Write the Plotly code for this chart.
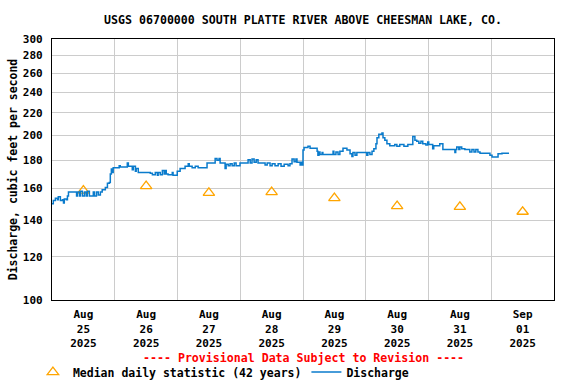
import pandas as pd
import plotly.graph_objects as go

# ---- data ----
start = pd.Timestamp("2025-08-25 00:00")

# discharge: hours since Aug 25 00:00, cfs (step data)
q_hours = [0.0, 0.5, 1.3, 2.1, 2.4, 3.2, 4.0, 4.4, 4.7, 5.5, 5.9, 6.3, 9.4, 9.7, 10.5, 10.8,
           11.6, 12.4, 13.1, 13.5, 14.3, 15.8, 16.2, 17.0, 17.7, 18.5, 19.2, 20.4, 21.2, 21.9,
           22.3, 22.7, 23.1, 23.4, 25.7, 26.1, 28.4, 28.8, 29.2, 30.7, 31.1, 31.9, 32.2, 33.0,
           37.6, 38.4, 39.5, 40.3, 40.6, 41.4, 42.2, 42.9, 43.3, 43.7, 44.4, 46.0, 46.3, 47.9,
           49.0, 50.9, 52.1, 52.5, 53.6, 54.8, 55.9, 59.3, 62.4, 63.1, 63.9, 64.3, 66.2, 66.6,
           67.4, 68.1, 68.9, 69.7, 70.4, 71.9, 75.0, 75.8, 76.5, 77.3, 78.1, 78.8, 81.5, 82.3,
           83.4, 84.2, 85.3, 86.5, 87.6, 88.8, 90.3, 91.0, 91.8, 92.6, 93.3, 93.7, 94.9, 95.2,
           95.6, 96.0, 96.4, 97.9, 98.7, 101.4, 101.7, 102.1, 102.5, 103.3, 103.6, 107.5, 107.8,
           108.6, 109.4, 110.1, 111.3, 112.8, 114.0, 114.7, 115.1, 115.9, 116.6, 119.7, 120.4,
           120.8, 121.6, 122.4, 123.1, 123.9, 124.3, 125.0, 126.2, 126.6, 127.3, 128.1, 129.2,
           131.1, 131.9, 133.0, 134.6, 136.1, 138.0, 138.8, 139.5, 140.3, 141.1, 141.8, 143.0,
           143.7, 144.1, 145.6, 146.0, 148.3, 149.5, 154.1, 154.4, 154.8, 155.6, 156.0, 156.7,
           157.9, 159.8, 160.6, 161.4, 162.1, 162.9, 163.7, 167.5, 168.3, 170.6, 172.1, 174.8]
q_values = [150, 152, 153.5, 152.5, 154.5, 152, 152.5, 150.5, 153, 152.5, 155, 157.5, 155, 157.5, 155, 158,
            155, 157.5, 155, 158, 155, 157.5, 155, 157.5, 155.5, 157.5, 159, 160.5, 163.5, 164,
            170, 173.5, 171, 174.5, 176, 175, 175, 178, 175.5, 173, 175.5, 172, 174, 171,
            170.5, 169.5, 171, 169, 171, 169.5, 172.5, 170, 172.5, 170, 169.5, 171, 169, 172,
            174, 175.5, 177.5, 175.5, 174.5, 175.5, 174.5, 178, 181.5, 180, 181.5, 178, 174, 177,
            176, 177.5, 176, 178, 176, 178, 180.5, 178, 181, 178.5, 180.5, 178, 176.5, 178,
            176, 177.5, 176, 177.5, 175.5, 177, 176, 177.5, 181, 179, 181, 178.5, 176.5, 178.5,
            176.5, 188, 190, 191, 189.5, 187, 184, 186.5, 184.5, 186, 184.5, 187, 184.5,
            186.5, 184.5, 187, 189.5, 188, 185, 183, 186, 184, 186, 186, 184,
            186, 184.5, 187, 189, 193, 198, 201, 202, 198, 196, 193, 191.5,
            192.5, 191, 192.5, 191, 192.5, 199, 196, 195, 193.5, 195, 193, 192,
            194.5, 192.5, 189, 191.5, 193, 188.5, 186, 188.5, 190.5, 188.5, 190.5, 189,
            188.5, 186.5, 188.5, 186.5, 188.5, 186.5, 185.5, 184, 182.5, 185, 185.5, 185.5]

# median daily statistic (42 years), plotted at noon of each day
median_days = ["2025-08-25", "2025-08-26", "2025-08-27", "2025-08-28",
               "2025-08-29", "2025-08-30", "2025-08-31", "2025-09-01"]
median_values = [158.5, 161.5, 157, 157.5, 153.5, 148.5, 148, 145]

tick_days = median_days
tick_labels = ["Aug<br>25<br>2025", "Aug<br>26<br>2025", "Aug<br>27<br>2025", "Aug<br>28<br>2025",
               "Aug<br>29<br>2025", "Aug<br>30<br>2025", "Aug<br>31<br>2025", "Sep<br>01<br>2025"]
y_ticks = [100, 120, 140, 160, 180, 200, 220, 240, 260, 280, 300]

# ---- figure ----
FONT = "DejaVu Sans Mono"
q_times = [start + pd.Timedelta(hours=h) for h in q_hours]
median_times = [pd.Timestamp(d) + pd.Timedelta(hours=12) for d in median_days]
tick_times = [pd.Timestamp(d) + pd.Timedelta(hours=12) for d in tick_days]

fig = go.Figure()
fig.add_trace(go.Scatter(
    x=median_times, y=median_values, mode="markers",
    name="Median daily statistic (42 years)",
    marker=dict(symbol="triangle-up-open", size=10, color="#FFA500",
                line=dict(width=1.3, color="#FFA500")),
))
fig.add_trace(go.Scatter(
    x=q_times, y=q_values, mode="lines", line_shape="hv",
    name="Discharge", line=dict(color="#0A7BCC", width=1.5),
))

fig.update_layout(
    width=576, height=384,
    margin=dict(l=52, r=22, t=39, b=84, autoexpand=False),
    paper_bgcolor="white", plot_bgcolor="white",
    font=dict(family=FONT, size=11.5, color="black", weight="bold"),
    title=dict(text="USGS 06700000 SOUTH PLATTE RIVER ABOVE CHEESMAN LAKE, CO.",
               x=0.5, xref="paper", xanchor="center",
               y=1 - 20 / 384, yref="container", yanchor="middle",
               font=dict(family=FONT, size=11.6, color="black", weight="bold")),
    showlegend=True,
    legend=dict(orientation="h", x=-0.038, xanchor="left", y=-0.276, yanchor="middle",
                bgcolor="rgba(0,0,0,0)", font=dict(family=FONT, size=11.5, weight="bold"),
                itemwidth=30, tracegroupgap=0),
)

fig.update_xaxes(
    range=[start, start + pd.Timedelta(days=8)],
    tickmode="array", tickvals=tick_times, ticktext=tick_labels,
    ticks="", showgrid=False, automargin=False, ticklabelstandoff=4,
    minor=dict(dtick=86400000, tick0=start, showgrid=True, gridcolor="#cccccc", gridwidth=1, ticks=""),
    showline=True, linecolor="black", linewidth=1.2, mirror=True,
    tickfont=dict(family=FONT, size=11, weight="bold"),
    zeroline=False,
)
fig.update_yaxes(
    type="log", range=[2, 2.4771212547],
    tickmode="array", tickvals=y_ticks, ticktext=[str(v) for v in y_ticks],
    ticks="", ticklabelstandoff=6, automargin=False,
    showgrid=True, gridcolor="#cccccc", gridwidth=1,
    showline=True, linecolor="black", linewidth=1.2, mirror=True,
    tickfont=dict(family=FONT, size=11, weight="bold"),
    title=dict(text="Discharge, cubic feet per second", standoff=2,
               font=dict(family=FONT, size=11.5, weight="bold")),
    zeroline=False,
)

fig.add_annotation(
    text="---- Provisional Data Subject to Revision ----",
    xref="paper", yref="paper", x=0.5, y=-0.222, xanchor="center", yanchor="middle",
    showarrow=False, font=dict(family=FONT, size=11.6, color="red", weight="bold"),
)

fig.write_html("out.html", config={"displayModeBar": False},
               post_script="document.body.style.margin='0';")
